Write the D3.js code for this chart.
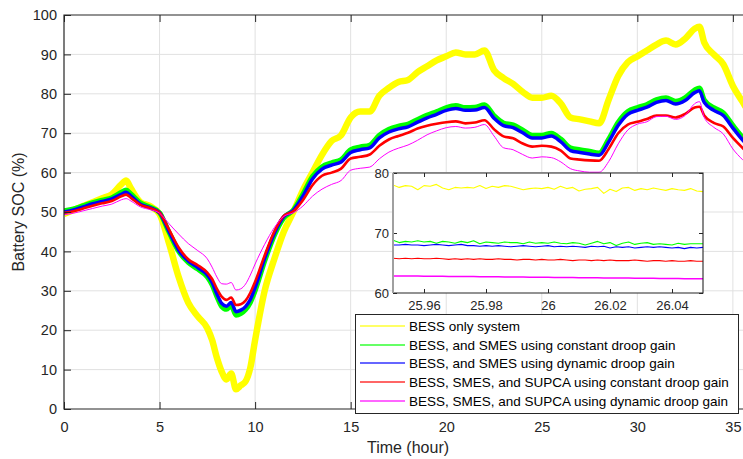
<!DOCTYPE html>
<html>
<head>
<meta charset="utf-8">
<script src="https://cdn.jsdelivr.net/npm/d3@7"></script>
<style>
  html, body { margin: 0; padding: 0; background: #fff; }
  svg { display: block; font-family: "Liberation Sans", Arial, Helvetica, sans-serif; }
</style>
</head>
<body>
<svg id="chart" width="743" height="459"></svg>
<script>
// Sample times (hours) shared by all main series
const hours = [0, 0.5, 1, 1.5, 2, 2.5, 3, 3.25, 3.5, 4, 4.5, 5, 5.5, 6, 6.5, 7, 7.5, 7.75, 8, 8.25,
  8.5, 8.75, 9, 9.25, 9.5, 9.75, 10, 10.5, 11, 11.5, 12, 12.5, 13, 13.5, 14, 14.5, 15, 15.5, 16, 16.5,
  17, 17.5, 18, 18.5, 19, 19.5, 20, 20.5, 21, 21.5, 22, 22.5, 23, 23.5, 24, 24.5, 25, 25.5, 26, 26.5,
  27, 27.5, 28, 28.5, 29, 29.5, 30, 30.5, 31, 31.5, 32, 32.5, 33, 33.25, 33.5, 34, 34.5, 35, 35.5, 36];

// Battery state of charge (%) for each configuration
const socBessOnly = [49.5, 50.5, 51.5, 52.5, 53.5, 54.5, 57, 58, 56, 52.5, 51.5, 49.5, 42, 33.5, 27, 23.5, 20.5, 17.5, 13, 9.5,
  7.5, 9, 5, 6, 7, 10.5, 17.5, 30, 38, 45, 50, 55.5, 60, 64.5, 68, 69.5, 74, 75.5, 75.5, 79.5,
  81.5, 83, 83.5, 85.5, 87, 88.5, 89.5, 90.5, 90, 90, 91, 86, 84, 82.5, 80.5, 79, 79, 79.5, 77.5, 74,
  73.5, 73, 72.5, 78.5, 84.5, 88, 89.5, 91, 92.5, 93.5, 92.5, 94, 96.5, 97, 93, 90, 87.5, 82, 78, 74];

const socSmesConst = [50.3, 50.8, 51.6, 52.4, 53, 53.6, 55, 55.6, 54.6, 52.3, 51.3, 49.8, 44.8, 40, 37.2, 35.5, 33.5, 31.5, 28.5, 26,
  25.3, 26.2, 23.8, 24.2, 25.2, 27, 30, 37.5, 44, 48.5, 50.5, 54.5, 59, 61.5, 62.5, 63.3, 65.8, 66.5, 67, 69.5,
  71, 71.8, 72.3, 73.5, 74.6, 75.5, 76.5, 77, 76.5, 76.6, 77.2, 74.5, 72.6, 72.1, 70.8, 69.5, 69.5, 70, 68.5, 66.3,
  65.8, 65.4, 65, 68.5, 72.8, 75.5, 76.5, 77.3, 78.5, 79, 78.1, 79, 81, 81.5, 78.5, 76.5, 75.2, 72, 69, 66.5];

const socSmesDyn = [50, 50.5, 51.3, 52.1, 52.7, 53.3, 54.5, 55, 54.1, 52, 51.1, 49.8, 45, 40.3, 37.6, 35.9, 34, 32.1, 29.2, 26.8,
  26.1, 27, 24.7, 25.1, 26, 27.8, 30.8, 38.2, 44.5, 48.8, 50.4, 54, 58.4, 60.9, 61.9, 62.7, 65.1, 65.8, 66.3, 68.8,
  70.3, 71.1, 71.6, 72.8, 73.9, 74.8, 75.8, 76.3, 75.8, 75.9, 76.5, 73.8, 71.9, 71.4, 70.1, 68.8, 68.8, 69.3, 67.8, 65.6,
  65.1, 64.7, 64.4, 67.8, 72, 74.8, 75.8, 76.6, 77.8, 78.3, 77.4, 78.3, 80.3, 80.8, 77.8, 75.8, 74.5, 71.3, 68.3, 65.8];

const socSupcaConst = [49.8, 50.2, 50.9, 51.6, 52.2, 52.8, 54, 54.4, 53.6, 51.8, 51, 49.8, 45.5, 41, 38, 36.5, 34.6, 33, 30.5, 28.5,
  27.7, 28.3, 26.4, 26.6, 27.5, 29.5, 32.3, 39, 45, 49, 50.2, 53, 56.8, 59.2, 60, 61, 63.6, 64, 64.6, 66.8,
  68.4, 69.3, 70.1, 71.2, 71.9, 72.4, 72.8, 73, 72.5, 72.7, 73.3, 71, 69.2, 68.7, 67.4, 66.6, 66.8, 66.6, 65.6, 63.6,
  63.3, 63.1, 63, 66, 70, 72.2, 72.9, 73.6, 74.5, 74.5, 74, 74.9, 76.5, 76.7, 74.5, 72.6, 71.7, 68.8, 66.3, 64];

const socSupcaDyn = [49.3, 49.7, 50.3, 50.9, 51.5, 52, 53.1, 53.4, 52.8, 51.3, 50.6, 49.7, 47, 44.4, 42, 40.2, 38.1, 36, 33.5, 31.8,
  31.7, 32.1, 30.2, 30.5, 31.7, 34, 36.8, 41.8, 46, 48.9, 49.8, 51.5, 54, 55.8, 57, 58, 60.6, 61.1, 61.4, 63.5,
  65.2, 66.2, 67, 68.2, 69.6, 70.6, 71.4, 71.7, 71.3, 71.5, 72.2, 69.3, 66.3, 65.8, 64.6, 63.7, 64, 63.8, 62.7, 61,
  60.4, 60.1, 60.1, 62.8, 67.3, 70.8, 72.3, 72.9, 74.2, 74.3, 73.5, 74.5, 77.5, 78, 74, 71.5, 69.8, 66, 63.3, 61];

// Zoomed window around t = 26 h, sampled every 0.002 h from 25.95 h
const zoomStart = 25.95;
const zoomStep = 0.002;
const zoomBessOnly = [78.0, 77.6, 77.9, 77.8, 77.2, 77.9, 77.8, 78.1, 77.5, 77.2,
  77.6, 77.5, 77.6, 77.5, 77.9, 77.4, 77.8, 77.6, 77.9, 77.8,
  77.5, 77.2, 77.4, 77.5, 77.4, 77.6, 77.3, 77.8, 77.4, 77.6,
  77.0, 77.3, 77.4, 77.6, 76.6, 77.3, 76.9, 77.5, 77.6, 77.1,
  77.4, 77.2, 77.5, 77.3, 77.1, 77.4, 77.2, 77.1, 77.4, 77.0, 76.9];
const zoomSmesConst = [68.8, 68.4, 68.6, 68.5, 68.7, 68.5, 68.6, 68.3, 68.6, 68.5,
  68.3, 68.6, 68.4, 68.7, 68.2, 68.5, 68.4, 68.3, 68.5, 68.4,
  68.4, 68.2, 68.5, 68.3, 68.4, 68.3, 68.5, 68.3, 68.2, 68.4,
  68.3, 68.0, 68.3, 68.6, 68.2, 68.4, 67.9, 68.3, 68.5, 68.1,
  68.3, 68.4, 68.1, 68.2, 68.1, 68.0, 68.3, 68.1, 68.2, 68.2, 68.2];
const zoomSmesDyn = [68.0, 68.0, 68.1, 68.0, 68.0, 67.9, 68.0, 68.1, 68.0, 67.9,
  68.0, 68.1, 67.9, 67.9, 67.8, 67.9, 67.8, 67.9, 67.8, 67.7,
  67.8, 67.9, 67.8, 67.7, 67.8, 67.9, 67.7, 67.8, 67.7, 67.8,
  67.7, 67.6, 67.8, 67.7, 67.8, 67.5, 67.7, 67.6, 67.7, 67.5,
  67.6, 67.7, 67.6, 67.7, 67.6, 67.5, 67.6, 67.4, 67.6, 67.5, 67.6];
const zoomSupcaConst = [65.8, 65.7, 65.8, 65.7, 65.8, 65.7, 65.7, 65.8, 65.7, 65.6,
  65.7, 65.6, 65.7, 65.6, 65.7, 65.6, 65.6, 65.7, 65.6, 65.6,
  65.5, 65.6, 65.6, 65.5, 65.6, 65.5, 65.5, 65.6, 65.5, 65.4,
  65.5, 65.5, 65.4, 65.5, 65.4, 65.5, 65.4, 65.4, 65.4, 65.5,
  65.4, 65.3, 65.4, 65.4, 65.3, 65.4, 65.3, 65.3, 65.4, 65.3, 65.3];
const zoomSupcaDyn = [62.85, 62.84, 62.83, 62.83, 62.82, 62.81, 62.80, 62.79, 62.78, 62.77,
  62.76, 62.75, 62.74, 62.73, 62.72, 62.71, 62.70, 62.69, 62.68, 62.67,
  62.66, 62.65, 62.64, 62.63, 62.62, 62.61, 62.60, 62.59, 62.58, 62.57,
  62.56, 62.55, 62.54, 62.53, 62.52, 62.51, 62.50, 62.49, 62.48, 62.47,
  62.46, 62.45, 62.44, 62.43, 62.42, 62.41, 62.40, 62.39, 62.38, 62.37, 62.36];

const seriesNames = [
  "BESS only system",
  "BESS, and SMES using constant droop gain",
  "BESS, and SMES using dynamic droop gain",
  "BESS, SMES, and SUPCA using constant droop gain",
  "BESS, SMES, and SUPCA using dynamic droop gain"
];
const seriesColors = ["#ffff00", "#00ff00", "#0000ff", "#ff0000", "#ff00ff"];
const mainWidths = [6.5, 5, 3.5, 2.6, 1];

const xTicks = [0, 5, 10, 15, 20, 25, 30, 35];
const yTicks = [0, 10, 20, 30, 40, 50, 60, 70, 80, 90, 100];
const zoomXTicks = [25.96, 25.98, 26, 26.02, 26.04];
const zoomXLabels = ["25.96", "25.98", "26", "26.02", "26.04"];
const zoomYTicks = [60, 70, 80];

const mainSeries = [socBessOnly, socSmesConst, socSmesDyn, socSupcaConst, socSupcaDyn];
const zoomSeries = [zoomBessOnly, zoomSmesConst, zoomSmesDyn, zoomSupcaConst, zoomSupcaDyn];

const ink = "#262626";
const gridColor = "#e1e1e1";
const svg = d3.select("#chart");

// ---- main axes ----
const plot = { left: 64, right: 752, top: 15, bottom: 409 };
const x = d3.scaleLinear().domain([0, 36]).range([plot.left, plot.right]);
const y = d3.scaleLinear().domain([0, 100]).range([plot.bottom, plot.top]);

svg.append("defs").append("clipPath").attr("id", "plotClip")
  .append("rect").attr("x", plot.left).attr("y", plot.top)
  .attr("width", plot.right - plot.left).attr("height", plot.bottom - plot.top);

// grid
const grid = svg.append("g");
grid.selectAll(".gx").data(xTicks.filter(d => d > 0)).join("line")
  .attr("x1", d => x(d)).attr("x2", d => x(d))
  .attr("y1", plot.top).attr("y2", plot.bottom)
  .attr("stroke", gridColor).attr("stroke-width", 1);
grid.selectAll(".gy").data(yTicks.filter(d => d > 0 && d < 100)).join("line")
  .attr("x1", plot.left).attr("x2", plot.right)
  .attr("y1", d => y(d)).attr("y2", d => y(d))
  .attr("stroke", gridColor).attr("stroke-width", 1);

// data lines
const mainLine = d3.line()
  .x((d, i) => x(hours[i]))
  .y(d => y(d))
  .curve(d3.curveMonotoneX);

svg.append("g").attr("clip-path", "url(#plotClip)")
  .selectAll("path").data(mainSeries).join("path")
  .attr("d", d => mainLine(d))
  .attr("fill", "none")
  .attr("stroke", (d, i) => seriesColors[i])
  .attr("stroke-width", (d, i) => mainWidths[i])
  .attr("stroke-linejoin", "round");

// axes
function styleAxis(g) {
  g.select(".domain").remove();
  g.selectAll(".tick line").attr("stroke", ink);
  g.selectAll(".tick text").attr("fill", ink);
}
svg.append("g").attr("transform", `translate(0,${plot.bottom})`)
  .call(d3.axisBottom(x).tickValues(xTicks).tickSizeInner(-7).tickSizeOuter(0).tickPadding(13))
  .call(styleAxis)
  .selectAll("text").attr("font-size", 14.5);
svg.append("g").attr("transform", `translate(0,${plot.top})`)
  .call(d3.axisTop(x).tickValues(xTicks).tickSizeInner(-7).tickSizeOuter(0).tickFormat(""))
  .call(styleAxis);
svg.append("g").attr("transform", `translate(${plot.left},0)`)
  .call(d3.axisLeft(y).tickValues(yTicks).tickSizeInner(-7).tickSizeOuter(0).tickPadding(7))
  .call(styleAxis)
  .selectAll("text").attr("font-size", 14.5);

svg.append("path")
  .attr("d", `M${plot.right},${plot.top}H${plot.left}V${plot.bottom}H${plot.right}`)
  .attr("fill", "none").attr("stroke", ink).attr("stroke-width", 1.2);

// axis labels
svg.append("text")
  .attr("transform", `translate(24,212) rotate(-90)`)
  .attr("text-anchor", "middle").attr("font-size", 16).attr("fill", ink)
  .text("Battery SOC (%)");
svg.append("text")
  .attr("x", 408).attr("y", 453)
  .attr("text-anchor", "middle").attr("font-size", 16).attr("fill", ink)
  .text("Time (hour)");

// ---- zoomed inset ----
const box = { left: 393, right: 703, top: 173, bottom: 293 };
const zx = d3.scaleLinear().domain([25.95, 26.05]).range([box.left, box.right]);
const zy = d3.scaleLinear().domain([60, 80]).range([box.bottom, box.top]);
const inset = svg.append("g");

inset.append("rect")
  .attr("x", box.left).attr("y", box.top)
  .attr("width", box.right - box.left).attr("height", box.bottom - box.top)
  .attr("fill", "#fff");

svg.append("defs").append("clipPath").attr("id", "insetClip")
  .append("rect").attr("x", box.left).attr("y", box.top)
  .attr("width", box.right - box.left).attr("height", box.bottom - box.top);

const zoomLine = d3.line()
  .x((d, i) => zx(zoomStart + i * zoomStep))
  .y(d => zy(d));

inset.append("g").attr("clip-path", "url(#insetClip)")
  .selectAll("path").data(zoomSeries).join("path")
  .attr("d", d => zoomLine(d))
  .attr("fill", "none")
  .attr("stroke", (d, i) => seriesColors[i])
  .attr("stroke-width", (d, i) => i === 4 ? 1.5 : 1.1)
  .attr("stroke-linejoin", "round");

inset.append("g").attr("transform", `translate(0,${box.bottom})`)
  .call(d3.axisBottom(zx).tickValues(zoomXTicks).tickSizeInner(-4).tickSizeOuter(0).tickPadding(8)
    .tickFormat((d, i) => zoomXLabels[i]))
  .call(styleAxis)
  .selectAll("text").attr("font-size", 13);
inset.append("g").attr("transform", `translate(0,${box.top})`)
  .call(d3.axisTop(zx).tickValues(zoomXTicks).tickSizeInner(-4).tickSizeOuter(0).tickFormat(""))
  .call(styleAxis);
inset.append("g").attr("transform", `translate(${box.left},0)`)
  .call(d3.axisLeft(zy).tickValues(zoomYTicks).tickSizeInner(-4).tickSizeOuter(0).tickPadding(4))
  .call(styleAxis)
  .selectAll("text").attr("font-size", 13);
inset.append("g").attr("transform", `translate(${box.right},0)`)
  .call(d3.axisRight(zy).tickValues(zoomYTicks).tickSizeInner(-4).tickSizeOuter(0).tickFormat(""))
  .call(styleAxis);

inset.append("path")
  .attr("d", `M${box.left},${box.top}H${box.right}V${box.bottom}H${box.left}`)
  .attr("fill", "none").attr("stroke", ink).attr("stroke-width", 1.1);
inset.append("line")
  .attr("x1", box.left).attr("x2", box.left).attr("y1", box.top).attr("y2", box.bottom)
  .attr("stroke", "#a0a0a0").attr("stroke-width", 2);

// ---- legend ----
const legend = svg.append("g");
const lg = { x: 355.5, y: 314.5, w: 383, h: 99, row0: 326, step: 18.7 };
legend.append("rect")
  .attr("x", lg.x).attr("y", lg.y).attr("width", lg.w).attr("height", lg.h)
  .attr("fill", "#fff").attr("stroke", ink).attr("stroke-width", 1);
const entries = legend.selectAll("g.entry").data(seriesNames).join("g")
  .attr("transform", (d, i) => `translate(0,${Math.round(lg.row0 + i * lg.step)})`);
entries.append("line")
  .attr("x1", 360).attr("x2", 405).attr("y1", 0).attr("y2", 0)
  .attr("stroke", (d, i) => seriesColors[i])
  .attr("stroke-width", 2)
  .attr("stroke-opacity", 0.6);
entries.append("text")
  .attr("x", 409).attr("y", 4.6)
  .attr("font-size", 13.5).attr("fill", "#000")
  .text(d => d);
</script>
</body>
</html>
